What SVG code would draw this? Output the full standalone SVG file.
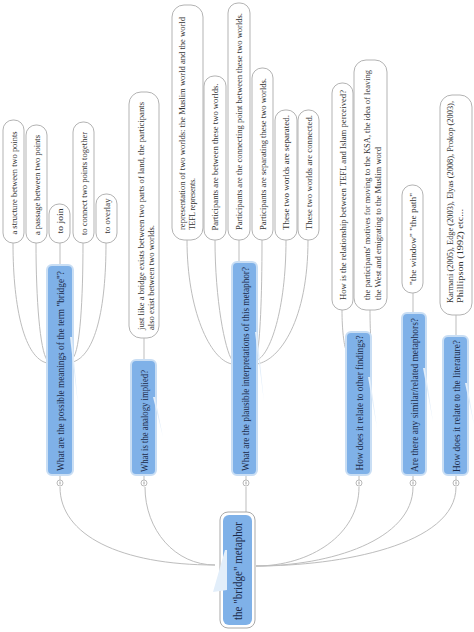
<svg xmlns="http://www.w3.org/2000/svg" width="474" height="632" viewBox="0 0 474 632">
<style>
.leaf{fill:#fff;stroke:#b3b3b3;stroke-width:1}
.lt{font-family:"Liberation Serif",serif;font-size:9px;fill:#333}
.br{fill:#7fb1e8;stroke:#c9def4;stroke-width:2}
.bt{font-family:"Liberation Serif",serif;font-size:11px;fill:#1c2b4a}
.rt{font-family:"Liberation Serif",serif;font-size:13px;fill:#1c2b4a}
.con{fill:none;stroke:#bdbdbd;stroke-width:1}
.tog{fill:#fff;stroke:#a8a8a8;stroke-width:0.8}
.spk{fill:#e2eefa;stroke:none}
</style>
<rect width="474" height="632" fill="#fff"/>
<g id="connectors">
<path class="con" d="M60,487 C60,535 120,565 215,565"/>
<path class="con" d="M145,487 C145,530 175,565 215,565"/>
<path class="con" d="M246,487 L246,512"/>
<path class="con" d="M359,487 C359,535 310,566 256,566"/>
<path class="con" d="M413,487 C413,540 330,566 256,566"/>
<path class="con" d="M456,487 C456,545 340,566 256,566"/>
<path class="con" d="M13,243 C13,310 25,358 47,363"/>
<path class="con" d="M36,243 C36,300 40,350 47,360"/>
<path class="con" d="M60,243 L60,265"/>
<path class="con" d="M83,243 C83,300 80,350 73,358"/>
<path class="con" d="M106,243 C106,310 95,355 73,362"/>
<path class="con" d="M144,338 L144,360"/>
<path class="con" d="M187,240 C187,310 210,360 232,364"/>
<path class="con" d="M215,240 C215,300 225,350 232,360"/>
<path class="con" d="M239,240 L239,262"/>
<path class="con" d="M262,240 C262,300 260,340 257,355"/>
<path class="con" d="M286,240 C286,310 270,355 257,360"/>
<path class="con" d="M308,240 C308,320 280,360 257,364"/>
<path class="con" d="M342,310 C342,330 344,345 346,350"/>
<path class="con" d="M370,310 C370,330 371,340 371,345"/>
<path class="con" d="M413,293 L413,313"/>
<path class="con" d="M456,315 L456,336"/>
<path class="con" d="M60,475 L60,480 M144,475 L144,480 M246,475 L246,480 M359,475 L359,480 M413,475 L413,480 M456,475 L456,480"/>
</g>
<g id="root">
<rect x="220" y="512" width="35" height="116" rx="8" fill="#fff" stroke="#a9a9a9"/>
<rect x="223" y="515" width="29" height="110" rx="6" fill="#7fb1e8"/>
<polygon class="spk" points="225,550 227,550 227,590 213,592"/>
<text class="rt" transform="translate(242,571) rotate(-90)" text-anchor="middle" textLength="98" lengthAdjust="spacingAndGlyphs">the "bridge" metaphor</text>
</g>
<g id="b1">
<rect class="br" x="47" y="265" width="26" height="210" rx="5"/>
<polygon class="spk" points="70,337 72,337 78,405"/>
<text class="bt" transform="translate(64,371) rotate(-90)" text-anchor="middle" textLength="200" lengthAdjust="spacingAndGlyphs">What are the possible meanings of the term "bridge"?</text>
<circle class="tog" cx="60" cy="483" r="3"/><path d="M60,481.5 V484.5" stroke="#888" stroke-width="0.8"/>
</g>
<g id="b2">
<rect class="br" x="131" y="360" width="25" height="115" rx="5"/>
<polygon class="spk" points="153,397 155,397 163,437"/>
<text class="bt" transform="translate(147.5,421) rotate(-90)" text-anchor="middle" textLength="102" lengthAdjust="spacingAndGlyphs">What is the analogy implied?</text>
<circle class="tog" cx="144" cy="483" r="3"/><path d="M144,481.5 V484.5" stroke="#888" stroke-width="0.8"/>
</g>
<g id="b3">
<rect class="br" x="232" y="262" width="25" height="213" rx="5"/>
<polygon class="spk" points="255,332 257,332 264,402"/>
<text class="bt" transform="translate(248.5,369) rotate(-90)" text-anchor="middle" textLength="204" lengthAdjust="spacingAndGlyphs">What are the plausible interpretations of this metaphor?</text>
<circle class="tog" cx="246" cy="483" r="3"/><path d="M246,481.5 V484.5" stroke="#888" stroke-width="0.8"/>
</g>
<g id="b4">
<rect class="br" x="346" y="332" width="25" height="143" rx="5"/>
<polygon class="spk" points="368,377 370,377 377,428"/>
<text class="bt" transform="translate(362.5,403) rotate(-90)" text-anchor="middle" textLength="135" lengthAdjust="spacingAndGlyphs">How does it relate to other findings?</text>
<circle class="tog" cx="359" cy="483" r="3"/><path d="M359,481.5 V484.5" stroke="#888" stroke-width="0.8"/>
</g>
<g id="b5">
<rect class="br" x="402" y="313" width="24" height="162" rx="5"/>
<polygon class="spk" points="423,368 425,368 433,422"/>
<text class="bt" transform="translate(418,395) rotate(-90)" text-anchor="middle" textLength="154" lengthAdjust="spacingAndGlyphs">Are there any similar/related metaphors?</text>
<circle class="tog" cx="413" cy="483" r="3"/><path d="M413,481.5 V484.5" stroke="#888" stroke-width="0.8"/>
</g>
<g id="b6">
<rect class="br" x="443" y="336" width="25" height="139" rx="5"/>
<polygon class="spk" points="465,383 467,383 474,425"/>
<text class="bt" transform="translate(459.5,406) rotate(-90)" text-anchor="middle" textLength="132" lengthAdjust="spacingAndGlyphs">How does it relate to the literature?</text>
<circle class="tog" cx="456" cy="483" r="3"/><path d="M456,481.5 V484.5" stroke="#888" stroke-width="0.8"/>
</g>
<g id="l1a"><rect class="leaf" x="3" y="120" width="21" height="123" rx="10"/>
<text class="lt" transform="translate(16.5,183) rotate(-90)" text-anchor="middle" textLength="103" lengthAdjust="spacingAndGlyphs">a structure between two points</text></g>
<g id="l1b"><rect class="leaf" x="26" y="125" width="21" height="118" rx="10"/>
<text class="lt" transform="translate(39.5,185) rotate(-90)" text-anchor="middle" textLength="100" lengthAdjust="spacingAndGlyphs">a passage between two points</text></g>
<g id="l1c"><rect class="leaf" x="49" y="204" width="21" height="39" rx="10"/>
<text class="lt" transform="translate(62.5,221) rotate(-90)" text-anchor="middle" textLength="25" lengthAdjust="spacingAndGlyphs">to join</text></g>
<g id="l1d"><rect class="leaf" x="73" y="122" width="21" height="121" rx="10"/>
<text class="lt" transform="translate(86.5,183.5) rotate(-90)" text-anchor="middle" textLength="103" lengthAdjust="spacingAndGlyphs">to connect two points together</text></g>
<g id="l1e"><rect class="leaf" x="96" y="194" width="21" height="49" rx="10"/>
<text class="lt" transform="translate(109.5,216) rotate(-90)" text-anchor="middle" textLength="35" lengthAdjust="spacingAndGlyphs">to overlay</text></g>
<g id="l2"><rect class="leaf" x="129" y="92" width="30" height="246" rx="12"/>
<text class="lt" transform="translate(144,330) rotate(-90)" textLength="228" lengthAdjust="spacingAndGlyphs">just like a bridge exists between two parts of land, the participants</text>
<text class="lt" transform="translate(154,330) rotate(-90)" textLength="105" lengthAdjust="spacingAndGlyphs">also exist between two worlds.</text></g>
<g id="l3a"><rect class="leaf" x="172" y="5" width="31" height="235" rx="12"/>
<text class="lt" transform="translate(185,230) rotate(-90)" textLength="213" lengthAdjust="spacingAndGlyphs">representation of two worlds: the Muslim world and the world</text>
<text class="lt" transform="translate(194.5,230) rotate(-90)" textLength="52" lengthAdjust="spacingAndGlyphs">TEFL represents.</text></g>
<g id="l3b"><rect class="leaf" x="204" y="76" width="22" height="164" rx="10"/>
<text class="lt" transform="translate(218,157) rotate(-90)" text-anchor="middle" textLength="147" lengthAdjust="spacingAndGlyphs">Participants are between these two worlds.</text></g>
<g id="l3c"><rect class="leaf" x="228" y="3" width="22" height="237" rx="10"/>
<text class="lt" transform="translate(242,121.5) rotate(-90)" text-anchor="middle" textLength="217" lengthAdjust="spacingAndGlyphs">Participants are the connecting point between these two worlds.</text></g>
<g id="l3d"><rect class="leaf" x="252" y="68" width="21" height="172" rx="10"/>
<text class="lt" transform="translate(265.5,154) rotate(-90)" text-anchor="middle" textLength="152" lengthAdjust="spacingAndGlyphs">Participants are separating these two worlds.</text></g>
<g id="l3e"><rect class="leaf" x="275" y="110" width="22" height="130" rx="10"/>
<text class="lt" transform="translate(289,172.5) rotate(-90)" text-anchor="middle" textLength="115" lengthAdjust="spacingAndGlyphs">These two worlds are separated.</text></g>
<g id="l3f"><rect class="leaf" x="298" y="110" width="21" height="130" rx="10"/>
<text class="lt" transform="translate(311.5,172.5) rotate(-90)" text-anchor="middle" textLength="115" lengthAdjust="spacingAndGlyphs">These two worlds are connected.</text></g>
<g id="l4a"><rect class="leaf" x="332" y="83" width="21" height="227" rx="10"/>
<text class="lt" transform="translate(345.5,195) rotate(-90)" text-anchor="middle" textLength="210" lengthAdjust="spacingAndGlyphs">How is the relationship between TEFL and Islam perceived?</text></g>
<g id="l4b"><rect class="leaf" x="354" y="60" width="33" height="250" rx="12"/>
<text class="lt" transform="translate(370,300) rotate(-90)" textLength="230" lengthAdjust="spacingAndGlyphs">the participants' motives for moving to the KSA, the idea of leaving</text>
<text class="lt" transform="translate(380.5,300) rotate(-90)" textLength="153" lengthAdjust="spacingAndGlyphs">the West and emigrating to the Muslim word</text></g>
<g id="l5"><rect class="leaf" x="402" y="185" width="21" height="108" rx="10"/>
<text class="lt" transform="translate(415.5,239) rotate(-90)" text-anchor="middle" textLength="92" lengthAdjust="spacingAndGlyphs">"the window" "the path"</text></g>
<g id="l6"><rect class="leaf" x="440" y="95" width="32" height="220" rx="12"/>
<text class="lt" transform="translate(453,303) rotate(-90)" textLength="202" lengthAdjust="spacingAndGlyphs">Karmani (2005), Edge (2003), Elyas (2008), Prokop (2003),</text>
<text class="lt" transform="translate(462.5,303) rotate(-90)" textLength="94" lengthAdjust="spacingAndGlyphs">Phillipson (1992) etc...</text></g>
</svg>
